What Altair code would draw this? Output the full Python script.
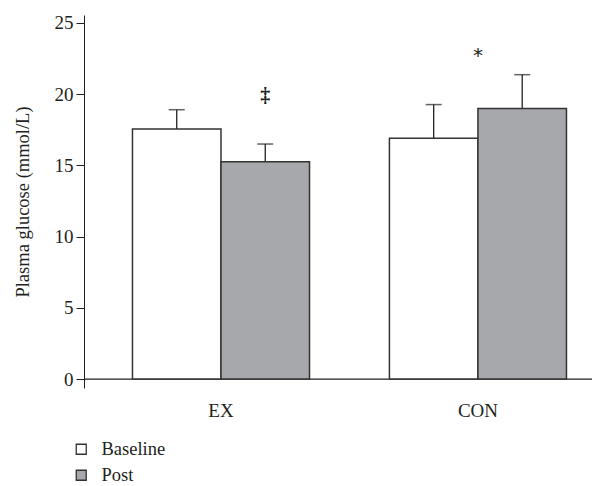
import altair as alt
import pandas as pd

groups = ["EX", "CON"]
phases = ["Baseline", "Post"]
group_col = ["EX", "EX", "CON", "CON"]
phase_col = ["Baseline", "Post", "Baseline", "Post"]
means = [17.56, 15.26, 16.9, 19.0]
err_top = [18.91, 16.5, 19.27, 21.37]

marks_group = ["EX", "CON"]
marks_phase = ["Post", None]
marks_text = ["‡", "*"]
marks_y = [19.9, 22.7]

df = pd.DataFrame({"group": group_col, "phase": phase_col, "mean": means, "err": err_top})

FONT = "Liberation Serif"
DARK = "#231f20"
W, H = 508, 373

xscale = alt.Scale(domain=groups, paddingInner=0.311, paddingOuter=0.144, align=0.655)
xoff = alt.Scale(domain=phases, paddingInner=0, paddingOuter=0)
yscale = alt.Scale(domain=[-0.63, 25.56], nice=False, zero=False)

x_enc = alt.X("group:N", scale=xscale, sort=groups,
              axis=alt.Axis(title=None, domain=False, ticks=False, tickSize=0, labelAngle=0,
                            labelPadding=13, labelFontSize=19, labelFont=FONT, labelColor=DARK))
y_enc = alt.Y("mean:Q", scale=yscale,
              axis=alt.Axis(title="Plasma glucose (mmol/L)", values=[0, 5, 10, 15, 20, 25],
                            tickSize=8, tickColor=DARK, domainColor=DARK, labelPadding=3,
                            labelFontSize=19, labelFont=FONT, labelColor=DARK,
                            titleFont=FONT, titleFontSize=18.5, titleFontWeight="normal",
                            titleColor=DARK, titlePadding=22, grid=False))

base = alt.Chart(df)

axis_line = alt.Chart(pd.DataFrame({"z": [0]})).mark_rule(color=DARK, strokeWidth=1.3).encode(
    y=alt.Y("z:Q", scale=yscale)
)

err_line = base.mark_rule(color=DARK, strokeWidth=1.3).encode(
    x=x_enc, xOffset=alt.XOffset("phase:N", scale=xoff, sort=phases),
    y=y_enc, y2="err:Q"
)
err_cap = base.mark_tick(color=DARK, thickness=1.5, size=16).encode(
    x=x_enc, xOffset=alt.XOffset("phase:N", scale=xoff, sort=phases),
    y=alt.Y("err:Q", scale=yscale)
)

bars = base.mark_bar(stroke="#333333", strokeWidth=1.5).encode(
    x=x_enc,
    xOffset=alt.XOffset("phase:N", scale=xoff, sort=phases),
    y=y_enc,
    fill=alt.Fill("phase:N", scale=alt.Scale(domain=phases, range=["#ffffff", "#a7a8ab"]),
                  legend=alt.Legend(title=None, orient="none", legendX=-12, legendY=425,
                                    symbolType="square", symbolSize=100, symbolStrokeColor="#333333",
                                    symbolStrokeWidth=1.3, labelFont=FONT, labelFontSize=18.5,
                                    labelColor=DARK, labelOffset=11, rowPadding=7, padding=0))
)

t1 = alt.Chart(pd.DataFrame({"group": [marks_group[0]], "phase": [marks_phase[0]],
                             "y": [marks_y[0]], "t": [marks_text[0]]})).mark_text(
    font=FONT, fontSize=20, fontWeight="bold", color=DARK).encode(
    x=x_enc, xOffset=alt.XOffset("phase:N", scale=xoff, sort=phases),
    y=alt.Y("y:Q", scale=yscale), text="t:N")

t2 = alt.Chart(pd.DataFrame({"group": [marks_group[1]], "y": [marks_y[1]], "t": [marks_text[1]]})).mark_text(
    font="DejaVu Sans", fontSize=20, color=DARK).encode(
    x=x_enc, y=alt.Y("y:Q", scale=yscale), text="t:N")

chart = alt.layer(axis_line, err_line, err_cap, bars, t1, t2).properties(
    width=W, height=H,
    autosize=alt.AutoSizeParams(type="none"),
    padding={"left": 76, "top": 7, "right": 0, "bottom": 98},
    background="white",
).configure_view(stroke=None)

chart.save("out.html", embed_options={"renderer": "svg", "actions": False})
